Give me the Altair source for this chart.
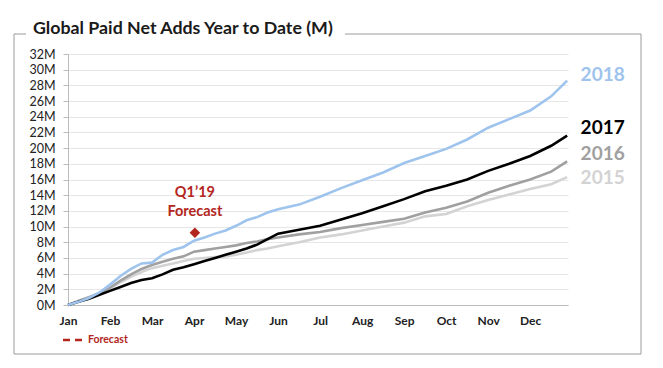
import altair as alt
import pandas as pd

# ---- data (millions, x = month index from Jan = 0) ----
months = ["Jan", "Feb", "Mar", "Apr", "May", "Jun", "Jul", "Aug", "Sep", "Oct", "Nov", "Dec"]
x_pos = [0, 0.25, 0.5, 0.75, 1, 1.25, 1.5, 1.75, 2, 2.25, 2.5, 2.75, 3, 3.25, 3.5, 3.75,
         4, 4.25, 4.5, 4.75, 5, 5.5, 6, 6.5, 7, 7.5, 8, 8.5, 9, 9.5, 10, 10.5, 11, 11.5, 11.88]
y2018 = [0, 0.4, 0.9, 1.6, 2.6, 3.7, 4.6, 5.3, 5.4, 6.4, 7.0, 7.4, 8.2, 8.6, 9.1, 9.5,
         10.1, 10.8, 11.2, 11.8, 12.2, 12.8, 13.8, 14.9, 15.9, 16.9, 18.1, 19.0, 19.9, 21.1, 22.6, 23.7, 24.8, 26.6, 28.6]
y2017 = [0, 0.4, 0.8, 1.3, 1.8, 2.3, 2.8, 3.2, 3.4, 3.9, 4.5, 4.8, 5.2, 5.6, 6.0, 6.4,
         6.8, 7.2, 7.7, 8.4, 9.1, 9.6, 10.1, 10.9, 11.7, 12.6, 13.5, 14.5, 15.2, 16.0, 17.1, 18.0, 19.0, 20.3, 21.6]
y2016 = [0, 0.5, 1.0, 1.5, 2.2, 3.1, 3.9, 4.6, 5.1, 5.5, 5.9, 6.2, 6.8, 7.0, 7.2, 7.4,
         7.6, 7.9, 8.1, 8.4, 8.6, 9.0, 9.3, 9.8, 10.2, 10.6, 11.0, 11.8, 12.4, 13.2, 14.3, 15.2, 16.0, 17.0, 18.3]
y2015 = [0, 0.5, 1.0, 1.5, 2.1, 2.9, 3.6, 4.2, 4.7, 5.0, 5.3, 5.6, 5.9, 6.0, 6.1, 6.2,
         6.4, 6.7, 7.0, 7.2, 7.5, 8.0, 8.6, 9.0, 9.5, 10.0, 10.5, 11.3, 11.6, 12.6, 13.4, 14.1, 14.8, 15.4, 16.3]
y_ticks = [0, 2, 4, 6, 8, 10, 12, 14, 16, 18, 20, 22, 24, 26, 28, 30, 32]

series_names = ["2015", "2016", "2017", "2018"]
series_colors = ["#d3d3d3", "#a0a0a0", "#000000", "#9ec4ee"]
label_colors = ["#d0d0d0", "#9a9a9a", "#000000", "#a6c8ef"]
label_y = [16.2, 19.3, 22.6, 29.3]
label_x = 12.2

forecast_x = [3.02]
forecast_y = [9.2]
forecast_text = ["Q1’19", "Forecast"]
forecast_text_y = [14.3, 11.9]

title_text = "Global Paid Net Adds Year to Date (M)"
RED = "#b3261e"
FONT = "Lato"

rows = []
for name, ys in zip(series_names, [y2015, y2016, y2017, y2018]):
    for xv, yv in zip(x_pos, ys):
        rows.append({"series": name, "m": xv, "v": yv})
df = pd.DataFrame(rows)

xscale = alt.Scale(domain=[0, 11.9], nice=False, zero=False)
yscale = alt.Scale(domain=[0, 32], nice=False, zero=True)

month_expr = "[" + ",".join("'%s'" % m for m in months) + "][datum.value]"

XAXIS = alt.Axis(values=list(range(12)), labelExpr=month_expr, ticks=False, grid=False,
                 labelFlush=False, labelOverlap=False,
                 domainColor="#bbbbbb", labelFont=FONT, labelFontWeight="bold",
                 labelFontSize=12, labelColor="#222222", labelPadding=10, title=None)
YAXIS = alt.Axis(values=y_ticks, labelExpr="datum.value + 'M'", tickSize=5,
                 labelOverlap=False, labelFlush=False, labelBound=False,
                 tickColor="#bbbbbb", domainColor="#bbbbbb", gridColor="#e6e6e6",
                 labelFont=FONT, labelFontSize=12.5, labelColor="#222222",
                 labelPadding=8, title=None)

lines = alt.Chart(df).mark_line(strokeWidth=2.6).encode(
    x=alt.X("m:Q", scale=xscale, axis=XAXIS),
    y=alt.Y("v:Q", scale=yscale, axis=YAXIS),
    color=alt.Color("series:N", scale=alt.Scale(domain=series_names, range=series_colors), legend=None),
)

lab_df = pd.DataFrame({"series": series_names, "y": label_y, "x": [label_x] * 4})
labels = alt.Chart(lab_df).mark_text(font=FONT, fontWeight="bold", fontSize=19, align="left",
                                     baseline="middle").encode(
    x=alt.X("x:Q", scale=xscale, axis=XAXIS), y=alt.Y("y:Q", scale=yscale, axis=YAXIS), text="series:N",
    color=alt.Color("series:N", scale=alt.Scale(domain=series_names, range=label_colors), legend=None),
)

diamond = alt.Chart(pd.DataFrame({"x": forecast_x, "y": forecast_y})).mark_point(
    shape="diamond", filled=True, size=110, color=RED, opacity=1).encode(
    x=alt.X("x:Q", scale=xscale, axis=XAXIS), y=alt.Y("y:Q", scale=yscale, axis=YAXIS))

ftext = alt.Chart(pd.DataFrame({"t": forecast_text, "y": forecast_text_y, "x": forecast_x * 2})).mark_text(
    font=FONT, fontWeight="bold", fontSize=14.5, color=RED, align="center", baseline="middle").encode(
    x=alt.X("x:Q", scale=xscale, axis=XAXIS), y=alt.Y("y:Q", scale=yscale, axis=YAXIS), text="t:N")

one = alt.Data(values=[{}])
title = alt.Chart(one).mark_text(text=title_text, font=FONT, fontWeight="bold", fontSize=17.8,
                                 color="#1a1a1a", align="left", baseline="alphabetic").encode(
    x=alt.value(-35), y=alt.value(-20))

FRAME = "#9a9a9a"
def hseg(x1, x2, yv):
    return alt.Chart(one).mark_rule(color=FRAME, strokeWidth=1).encode(
        x=alt.value(x1), x2=alt.value(x2), y=alt.value(yv))

def vseg(xv, y1, y2):
    return alt.Chart(one).mark_rule(color=FRAME, strokeWidth=1).encode(
        x=alt.value(xv), y=alt.value(y1), y2=alt.value(y2))

frame = [hseg(-54, -42, -20), hseg(277, 573, -20), hseg(-54, 573, 300),
         vseg(-54, -20, 300), vseg(573, -20, 300)]

legend_dash = alt.Chart(one).mark_rule(color=RED, strokeWidth=2.5, strokeDash=[7, 5]).encode(
    x=alt.value(-5), x2=alt.value(16), y=alt.value(286))
legend_text = alt.Chart(one).mark_text(text="Forecast", font=FONT, fontWeight="bold", fontSize=10.5,
                                       color=RED, align="left", baseline="middle").encode(
    x=alt.value(20), y=alt.value(286))

chart = alt.layer(lines, labels, diamond, ftext, title, *frame, legend_dash, legend_text).properties(
    width=500, height=251,
    background="white",
    autosize=alt.AutoSizeParams(type="none"),
    padding={"left": 60, "top": 46, "right": 87, "bottom": 55},
).configure_view(stroke=None, strokeWidth=0).configure_axisX(grid=False)

chart.save("out.html", embed_options={"renderer": "svg", "actions": False})
